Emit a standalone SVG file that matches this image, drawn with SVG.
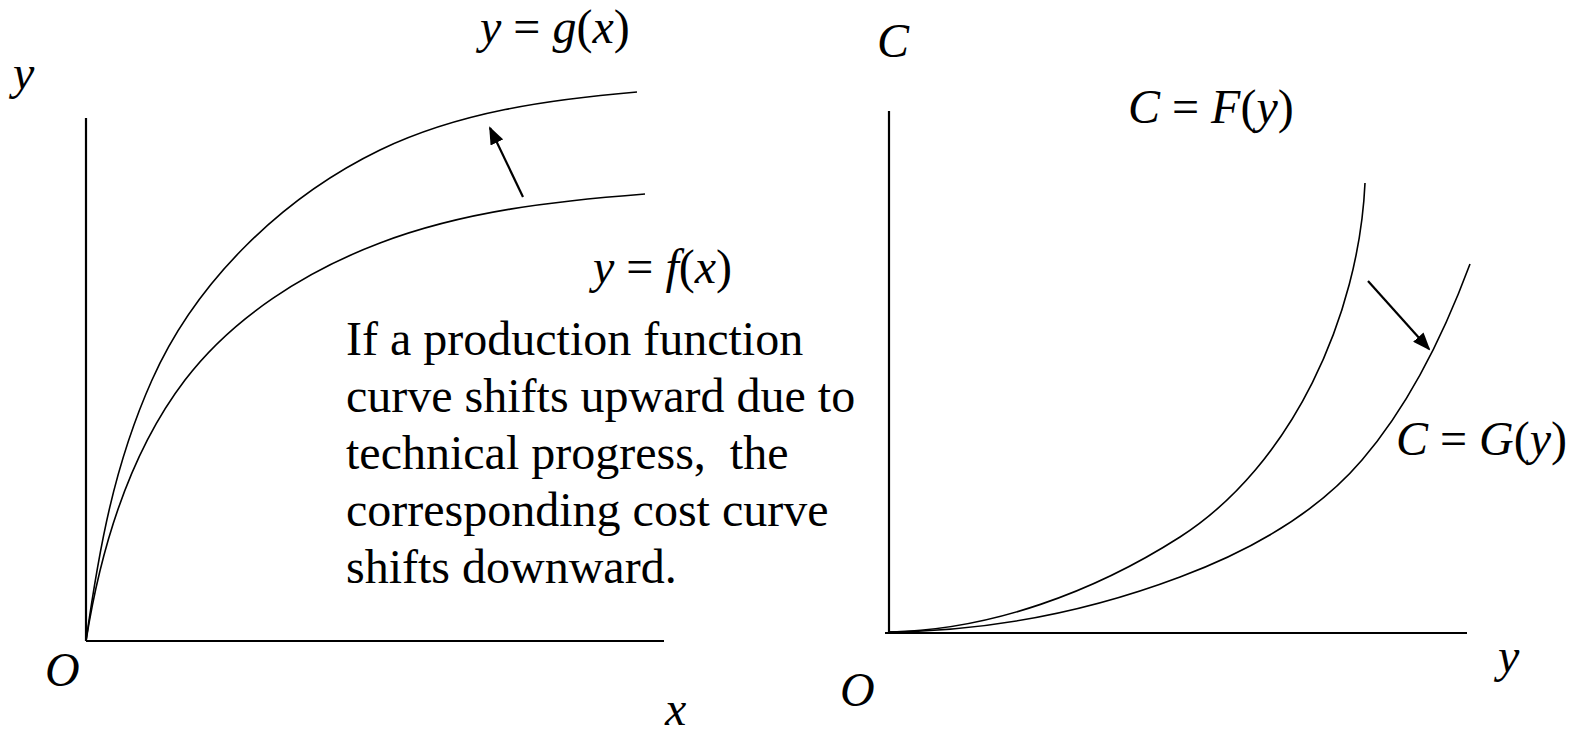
<svg xmlns="http://www.w3.org/2000/svg" width="1577" height="732" viewBox="0 0 1577 732">
<style>
text{font-family:"Liberation Serif","Times New Roman",serif;font-size:48px;fill:#000}
.i{font-style:italic}
.axis{stroke:#000;stroke-width:2.2;fill:none}
.curve{stroke:#000;stroke-width:1.6;fill:none}
.arr{stroke:#000;stroke-width:2.2;fill:none;marker-end:url(#ah)}
</style>
<defs>
<marker id="ah" markerUnits="userSpaceOnUse" markerWidth="18" markerHeight="14" refX="16" refY="7" orient="auto">
<path d="M0,0 L18,7 L0,14 z" fill="#000"/>
</marker>
</defs>
<rect width="1577" height="732" fill="#fff"/>
<g id="left-chart">
<line class="axis" x1="86" y1="118" x2="86" y2="641"/>
<line class="axis" x1="86" y1="641" x2="664" y2="641"/>
<path id="curve-g" class="curve" d="M86,641 C99,549 114,465 152,380 C196,281 283,197 380,150 C459,112 549,99.5 637,92"/>
<path id="curve-f" class="curve" d="M86,641 C100.6,549 128.6,454 185,380 C233,317 306,271 380,243 C464,211 555,201 645,194"/>
<text class="i" x="13" y="89">y</text>
<text class="i" x="45" y="686">O</text>
<text class="i" x="665" y="725">x</text>
<text x="480" y="43"><tspan class="i">y</tspan> = <tspan class="i">g</tspan>(<tspan class="i">x</tspan>)</text>
<text x="593" y="283"><tspan class="i">y</tspan> = <tspan class="i">f</tspan>(<tspan class="i">x</tspan>)</text>
</g>
<g id="note">
<text x="346" y="355">If a production function</text>
<text x="346" y="412">curve shifts upward due to</text>
<text x="346" y="469" xml:space="preserve">technical progress,  the</text>
<text x="346" y="526">corresponding cost curve</text>
<text x="346" y="583">shifts downward.</text>
</g>
<g id="right-chart">
<line class="axis" x1="889" y1="111" x2="889" y2="633"/>
<line class="axis" x1="885" y1="633" x2="1467" y2="633"/>
<path id="curve-F" class="curve" d="M889,632 C991,630 1094,592 1180,537 C1292,465 1359,316 1365,183"/>
<path id="curve-G" class="curve" d="M889,632 C988,631 1087,612 1180,577 C1247,552 1315,515 1362,460 C1411,403 1444,334 1470,264"/>
<text class="i" x="877" y="57">C</text>
<text class="i" x="840" y="706">O</text>
<text class="i" x="1498" y="672">y</text>
<text x="1128" y="123"><tspan class="i">C</tspan> = <tspan class="i">F</tspan>(<tspan class="i">y</tspan>)</text>
<text x="1396" y="455"><tspan class="i">C</tspan> = <tspan class="i">G</tspan>(<tspan class="i">y</tspan>)</text>
</g>
<g id="connectors">
<line class="arr" x1="523" y1="197" x2="490" y2="128"/>
<line class="arr" x1="1368" y1="281" x2="1429" y2="349"/>
</g>
</svg>
